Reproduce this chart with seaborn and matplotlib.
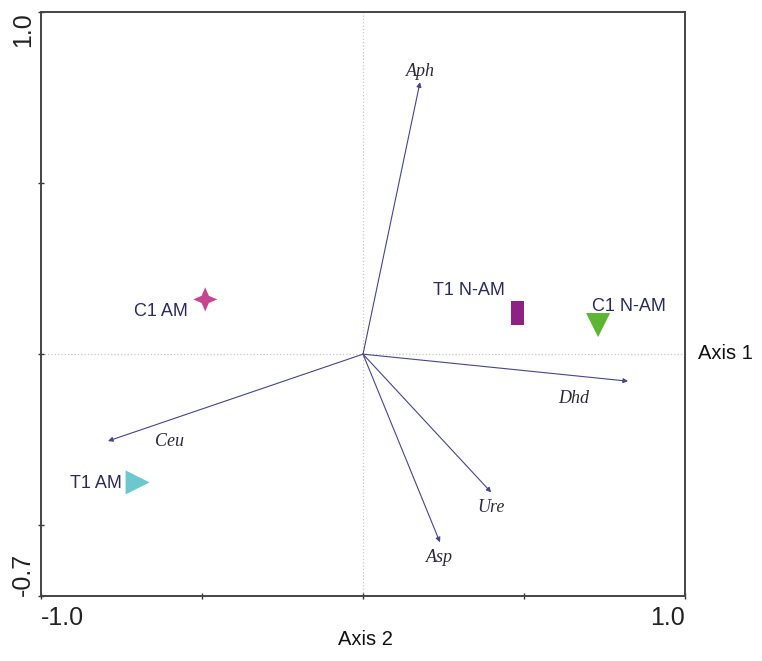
import pandas as pd
import seaborn as sns
import matplotlib.pyplot as plt
import numpy as np
from matplotlib.path import Path

# Sample scores (Axis 1 on x, Axis 2 on y)
samples = ['C1 AM', 'T1 N-AM', 'C1 N-AM', 'T1 AM']
sample_x = [-0.49, 0.48, 0.73, -0.70]
sample_y = [0.16, 0.12, 0.085, -0.375]

# Enzyme vectors
enzymes = ['Aph', 'Dhd', 'Ceu', 'Ure', 'Asp']
enzyme_x = [0.177, 0.823, -0.792, 0.398, 0.239]
enzyme_y = [0.795, -0.079, -0.254, -0.404, -0.550]

sns.set_style("white")
plt.rcParams['font.family'] = ['Liberation Sans', 'DejaVu Sans']

df = pd.DataFrame({'sample': samples, 'x': sample_x, 'y': sample_y})

star = Path([(0, 1), (0.3, 0.3), (1, 0), (0.3, -0.3), (0, -1),
             (-0.3, -0.3), (-1, 0), (-0.3, 0.3), (0, 1)], closed=True)
rect = [(-0.5, -1), (0.5, -1), (0.5, 1), (-0.5, 1), (-0.5, -1)]
markers = {'C1 AM': star, 'T1 N-AM': rect, 'C1 N-AM': 'v', 'T1 AM': '>'}
palette = {'C1 AM': '#c4468f', 'T1 N-AM': '#8e2282', 'C1 N-AM': '#5db534', 'T1 AM': '#6cc8cc'}
sizes = {'C1 AM': 300, 'T1 N-AM': 310, 'C1 N-AM': 300, 'T1 AM': 300}

fig = plt.figure(figsize=(7.62, 6.61), dpi=100)
ax = fig.add_axes([0.0538, 0.0983, 0.8452, 0.8835])

ax.axhline(0, color='#c8c8c8', lw=0.9, ls=':', zorder=0)
ax.axvline(0, color='#c8c8c8', lw=0.9, ls=':', zorder=0)

for name in samples:
    sub = df[df['sample'] == name]
    sns.scatterplot(data=sub, x='x', y='y', marker=markers[name], color=palette[name],
                    s=sizes[name], edgecolor='none', linewidth=0, ax=ax, legend=False, zorder=3)

# sample labels
label_pos = {'C1 AM': (-0.545, 0.125, 'right'), 'T1 N-AM': (0.44, 0.185, 'right'),
             'C1 N-AM': (0.71, 0.14, 'left'), 'T1 AM': (-0.75, -0.378, 'right')}
for name in samples:
    lx, ly, ha = label_pos[name]
    ax.text(lx, ly, name, ha=ha, va='center', fontsize=13, color='#2b2b5c')

# enzyme arrows
offsets = {'Aph': (0.0, 0.03), 'Dhd': (-0.17, -0.05), 'Ceu': (0.19, 0.0),
           'Ure': (0.0, -0.045), 'Asp': (0.0, -0.045)}
for name, ex, ey in zip(enzymes, enzyme_x, enzyme_y):
    ax.annotate('', xy=(ex, ey), xytext=(0, 0),
                arrowprops=dict(arrowstyle='-|>', color='#45458a', lw=0.8,
                                mutation_scale=7, shrinkA=0, shrinkB=0))
    dx, dy = offsets[name]
    ax.text(ex + dx, ey + dy, name, ha='center', va='center', fontsize=13,
            family='Liberation Serif', style='italic', color='#2a2a3a')

ax.set_xlim(-1.0, 1.0)
ax.set_ylim(-0.707, 1.0)
ax.set_xticks([-1.0, -0.5, 0, 0.5, 1.0])
ax.set_xticklabels(['-1.0', '', '', '', '1.0'])
ax.set_yticks([-0.707, -0.5, 0, 0.5, 1.0])
ax.set_yticklabels(['-0.7', '', '', '', '1.0'], rotation=90)
ax.tick_params(axis='both', bottom=True, left=True, direction='inout', length=5, width=1,
               color='#333333', labelsize=18, labelcolor='#222222')
ax.tick_params(axis='x', pad=5)
ax.tick_params(axis='y', pad=2)
xl = ax.get_xticklabels()
xl[0].set_ha('left')
xl[-1].set_ha('right')
yl = ax.get_yticklabels()
yl[0].set_va('bottom')
yl[-1].set_va('top')
for sp in ax.spines.values():
    sp.set_color('#444444')
    sp.set_linewidth(1.4)
ax.set_xlabel('')
ax.set_ylabel('')

fig.text(0.952, 0.465, 'Axis 1', ha='center', va='center', fontsize=14.5, color='#111111')
fig.text(0.479, 0.032, 'Axis 2', ha='center', va='center', fontsize=14.5, color='#111111')

fig.savefig('out.png', dpi=100)
